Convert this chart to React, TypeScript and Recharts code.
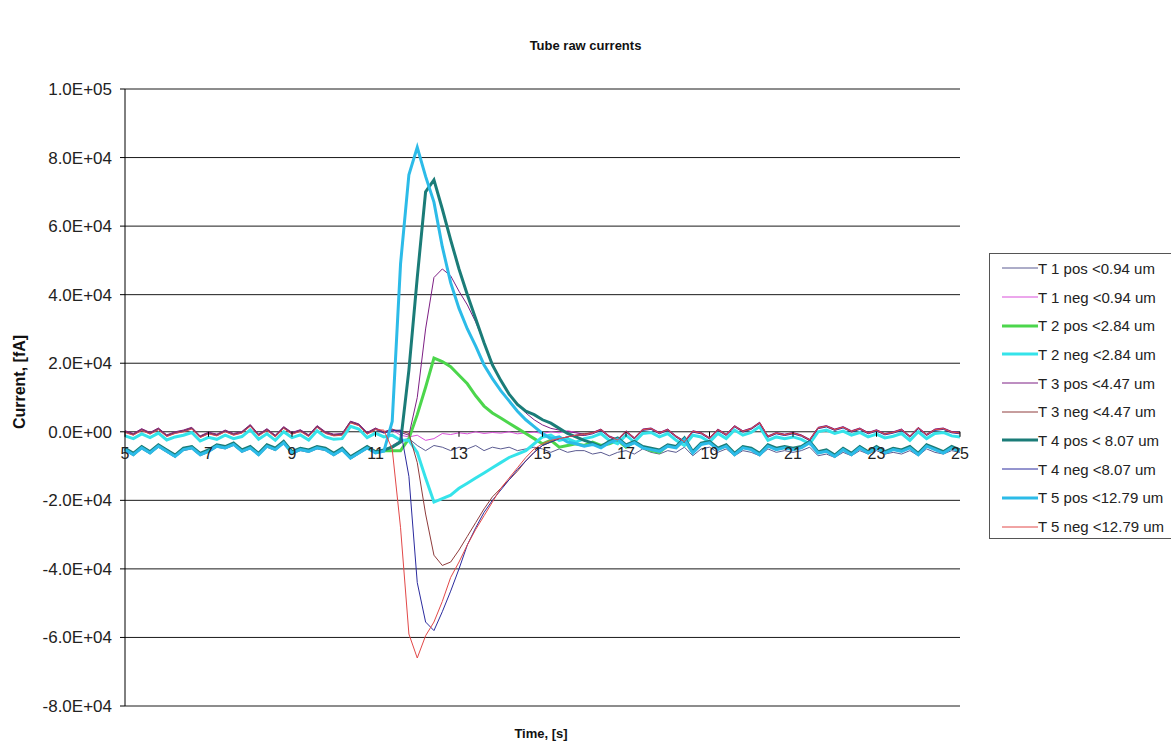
import React from 'react';
import { LineChart, Line, XAxis, YAxis, CartesianGrid } from 'recharts';

// time axis, seconds
const TIME = [
  5.0, 5.2, 5.4, 5.6, 5.8, 6.0, 6.2, 6.4, 6.6, 6.8,
  7.0, 7.2, 7.4, 7.6, 7.8, 8.0, 8.2, 8.4, 8.6, 8.8,
  9.0, 9.2, 9.4, 9.6, 9.8, 10.0, 10.2, 10.4, 10.6, 10.8,
  11.0, 11.2, 11.4, 11.6, 11.8, 12.0, 12.2, 12.4, 12.6, 12.8,
  13.0, 13.2, 13.4, 13.6, 13.8, 14.0, 14.2, 14.4, 14.6, 14.8,
  15.0, 15.2, 15.4, 15.6, 15.8, 16.0, 16.2, 16.4, 16.6, 16.8,
  17.0, 17.2, 17.4, 17.6, 17.8, 18.0, 18.2, 18.4, 18.6, 18.8,
  19.0, 19.2, 19.4, 19.6, 19.8, 20.0, 20.2, 20.4, 20.6, 20.8,
  21.0, 21.2, 21.4, 21.6, 21.8, 22.0, 22.2, 22.4, 22.6, 22.8,
  23.0, 23.2, 23.4, 23.6, 23.8, 24.0, 24.2, 24.4, 24.6, 24.8,
  25.0,
];

const T1_POS = [
  -5500, -7000, -5000, -6500, -4500, -6000, -7500, -5500, -5000, -7000,
  -6000, -4500, -5000, -4000, -6000, -5000, -7000, -4500, -5500, -3500,
  -6500, -5500, -6000, -5000, -5500, -7000, -5500, -8000, -6500, -5000,
  -6000, -5500, -4000, -2500, -2000, -4000, -5500, -4000, -4500, -5500,
  -4500, -5000, -4000, -5500, -4500, -5000, -4500, -5500, -5000, -4500,
  -5000, -6000, -5000, -6000, -5500, -5500, -6500, -6000, -7000, -6000,
  -5500, -6500, -5000, -6000, -6500, -5500, -6000, -4500, -7000, -5000,
  -4500, -6000, -5000, -7000, -5500, -6000, -7000, -5000, -6000, -5500,
  -6000, -5500, -4500, -7000, -6500, -7500, -6000, -7000, -5500, -6500,
  -5500, -6500, -6000, -6500, -5500, -7000, -5000, -6000, -6500, -5500,
  -6000,
];

const T1_NEG = [
  200, -600, 800, -300, 1000, -1000, -100, 400, 1200, -1300,
  -200, -800, 400, -600, 0, 2000, -800, 800, -1100, 1400,
  -300, 500, -1000, 1700, -100, -800, -600, 3000, 2200, -300,
  1000, -100, 500, -1000, -1500, -1000, -2500, -2000, -500, -800,
  -300, -600, 0, -500, -200, -400, 0, -600, -300, -100,
  -500, 0, -300, 300, -200, -800, -300, 700, -1300, -2300,
  200, -1800, 700, 1000, -300, 700, -1300, -2800, 200, -300,
  -1800, 700, -800, 1700, 200, 1000, 2700, -1300, -300, -800,
  -300, -1000, -2300, 1200, 1700, 700, 1400, 200, 1000, -300,
  500, -600, -100, 700, -1300, 1200, -800, 700, 1000, 0,
  -300,
];

const T2_POS = [
  -5000, -6500, -4500, -6000, -4000, -5500, -7000, -5000, -4500, -6500,
  -5500, -4000, -4500, -3500, -5500, -4500, -6500, -4000, -5000, -3000,
  -6000, -5000, -5500, -4500, -5000, -6500, -5000, -7500, -6000, -4500,
  -6000, -5500, -5500, -5500, -2000, 5000, 13000, 21500, 20500, 19000,
  16500, 14000, 10500, 7500, 5500, 4000, 2500, 1000, -500, -2000,
  -3500, -2500, -4500, -4000, -3500, -4000, -3000, -4000, -3500, -2500,
  -4500, -3000, -4500, -5500, -6000, -4000, -4500, -2500, -6000, -3500,
  -3000, -5000, -4000, -6500, -4500, -5000, -6500, -4000, -5000, -4500,
  -5000, -4500, -3000, -6000, -5500, -7000, -5000, -6500, -4500, -6000,
  -4500, -6000, -5000, -5500, -4500, -6500, -4000, -5000, -6000, -4500,
  -5500,
];

const T2_NEG = [
  -1200, -2000, -600, -1700, -400, -2400, -1500, -1000, -200, -2700,
  -1600, -2200, -1000, -2000, -1400, 600, -2200, -600, -2500, 0,
  -1700, -900, -2400, 300, -1500, -2200, -2000, 1600, 800, -1700,
  -400, -1500, -1000, -2500, -2500, -6000, -13500, -20500, -19500, -18500,
  -16500, -15000, -13500, -12000, -10500, -9000, -7500, -6500, -5500, -3500,
  -1500, -1000, -2500, -2000, -3000, -2000, -1500, -500, -2500, -3500,
  -1000, -3000, -500, -200, -1500, -500, -2500, -4000, -1000, -1500,
  -3000, -500, -2000, 500, -1000, -200, 1500, -2500, -1500, -2000,
  -1500, -2200, -3500, 0, 500, -500, 200, -1000, -200, -1500,
  -700, -1800, -1300, -500, -2500, 0, -2000, -500, -200, -1200,
  -1500,
];

const T3_POS = [
  300, -500, 900, -200, 1100, -900, 0, 500, 1300, -1200,
  -100, -700, 500, -500, 100, 2100, -700, 900, -1000, 1500,
  -200, 600, -900, 1800, 0, -700, -500, 3100, 2300, -200,
  1100, 0, 800, -200, -1000, 10000, 30000, 45000, 47500, 45500,
  41000, 37000, 32000, 26000, 20000, 15000, 11000, 8000, 5500, 3500,
  2000, 1000, 500, 0, -300, -700, -200, 800, -1200, -2200,
  300, -1700, 800, 1100, -200, 800, -1200, -2700, 300, -200,
  -1700, 800, -700, 1800, 300, 1100, 2800, -1200, -200, -700,
  -200, -900, -2200, 1300, 1800, 800, 1500, 300, 1100, -200,
  600, -500, 0, 800, -1200, 1300, -700, 800, 1100, 100,
  -200,
];

const T3_NEG = [
  100, -700, 700, -400, 900, -1100, -200, 300, 1100, -1400,
  -300, -900, 300, -700, -100, 1900, -900, 700, -1200, 1300,
  -400, 400, -1100, 1600, -200, -900, -700, 2900, 2100, -400,
  900, -200, 600, 300, -500, -9000, -24000, -36000, -39000, -38000,
  -34500, -30500, -26500, -22500, -19000, -16500, -14000, -11500, -8500, -6000,
  -4000, -3000, -2000, -1500, -1000, -500, -300, 600, -1400, -2400,
  100, -1900, 600, 900, -400, 600, -1400, -2900, 100, -400,
  -1900, 600, -900, 1600, 100, 900, 2600, -1400, -400, -900,
  -400, -1100, -2400, 1100, 1600, 600, 1300, 100, 900, -400,
  400, -700, -200, 600, -1400, 1100, -900, 600, 900, -100,
  -400,
];

const T4_POS = [
  -4800, -6300, -4300, -5800, -3800, -5300, -6800, -4800, -4300, -6300,
  -5300, -3800, -4300, -3300, -5300, -4300, -6300, -3800, -4800, -2800,
  -5800, -4800, -5300, -4300, -4800, -6300, -4800, -7300, -5800, -4300,
  -5800, -5300, -4500, -3000, 18000, 45000, 70000, 73500, 65000, 56000,
  47500, 40000, 33000, 26000, 19500, 15000, 11000, 8000, 6000, 5000,
  3500, 2500, 1000, -500, -1500, -2500, -3300, -4300, -2800, -1800,
  -3800, -2800, -4300, -4800, -5300, -3800, -4300, -1800, -5800, -3300,
  -2800, -4800, -3800, -6300, -4300, -4800, -6300, -3800, -4800, -4300,
  -4800, -4300, -2800, -5800, -5300, -6800, -4800, -6300, -4300, -5800,
  -4300, -5800, -4800, -5300, -4300, -6300, -3800, -4800, -5800, -4300,
  -5300,
];

const T4_NEG = [
  -100, -900, 500, -600, 700, -1300, -400, 100, 900, -1600,
  -500, -1100, 100, -900, -300, 1700, -1100, 500, -1400, 1100,
  -600, 200, -1300, 1400, -400, -1100, -900, 2700, 1900, -600,
  700, -400, 300, 500, -13000, -44000, -55500, -58000, -52500, -46500,
  -40000, -33000, -28000, -23500, -20000, -17000, -14000, -11000, -8500, -6000,
  -4000, -3000, -2000, -1500, -1000, -1100, -600, 400, -1600, -2600,
  -100, -2100, 400, 700, -600, 400, -1600, -3100, -100, -600,
  -2100, 400, -1100, 1400, -100, 700, 2400, -1600, -600, -1100,
  -600, -1300, -2600, 900, 1400, 400, 1100, -100, 700, -600,
  200, -900, -400, 400, -1600, 900, -1100, 400, 700, -300,
  -600,
];

const T5_POS = [
  -5200, -6700, -4700, -6200, -4200, -5700, -7200, -5200, -4700, -6700,
  -5700, -4200, -4700, -3700, -5700, -4700, -6700, -4200, -5200, -3200,
  -6200, -5200, -5700, -4700, -5200, -6700, -5200, -7700, -6200, -4700,
  -6200, -5700, 3000, 49000, 75000, 83000, 74500, 67000, 54000, 43500,
  36000, 30000, 25000, 19500, 15500, 12000, 9000, 6000, 3500, 1500,
  -500, -2000, -1500, -3000, -3500, -4200, -3700, -4700, -3200, -2200,
  -4200, -3200, -4700, -5200, -5700, -4200, -4700, -2200, -6200, -3700,
  -3200, -5200, -4200, -6700, -4700, -5200, -6700, -4200, -5200, -4700,
  -5200, -4700, -3200, -6200, -5700, -7200, -5200, -6700, -4700, -6200,
  -4700, -6200, -5200, -5700, -4700, -6700, -4200, -5200, -6200, -4700,
  -5700,
];

const T5_NEG = [
  -200, -1000, 400, -700, 600, -1400, -500, 0, 800, -1700,
  -600, -1200, 0, -1000, -400, 1600, -1200, 400, -1500, 1000,
  -700, 100, -1400, 1300, -500, -1200, -1000, 2600, 1800, -700,
  600, 500, -5000, -28000, -59000, -66000, -59500, -55500, -49500, -42500,
  -38000, -33000, -28500, -24500, -20500, -16500, -13500, -10500, -7500, -5000,
  -3500, -2500, -2000, -1500, -1000, -900, -400, 600, -1400, -2400,
  100, -1900, 600, 900, -400, 600, -1400, -2900, 100, -400,
  -1900, 600, -900, 1600, 100, 900, 2600, -1400, -400, -900,
  -400, -1100, -2400, 1100, 1600, 600, 1300, 100, 900, -400,
  400, -700, -200, 600, -1400, 1100, -900, 600, 900, -100,
  -400,
];

const X_TICKS = [5, 7, 9, 11, 13, 15, 17, 19, 21, 23, 25];
const Y_TICKS = [-80000, -60000, -40000, -20000, 0, 20000, 40000, 60000, 80000, 100000];

const SERIES = [
  { key: 'T 1 pos <0.94 um', values: T1_POS, color: '#5b5b91', width: 1 },
  { key: 'T 1 neg <0.94 um', values: T1_NEG, color: '#d94fd9', width: 1 },
  { key: 'T 2 pos <2.84 um', values: T2_POS, color: '#4cd64c', width: 3 },
  { key: 'T 2 neg <2.84 um', values: T2_NEG, color: '#35e3ea', width: 3 },
  { key: 'T 3 pos <4.47 um', values: T3_POS, color: '#7d1f84', width: 1 },
  { key: 'T 3 neg <4.47 um', values: T3_NEG, color: '#8f3c3c', width: 1 },
  { key: 'T 4 pos < 8.07 um', values: T4_POS, color: '#1b7c78', width: 3 },
  { key: 'T 4 neg <8.07 um', values: T4_NEG, color: '#2b2b9e', width: 1 },
  { key: 'T 5 pos <12.79 um', values: T5_POS, color: '#2cbbe8', width: 3 },
  { key: 'T 5 neg <12.79 um', values: T5_NEG, color: '#e24848', width: 1 },
];

const data = TIME.map((t, i) => {
  const row: Record<string, number> = { t };
  SERIES.forEach((s) => {
    row[s.key] = s.values[i];
  });
  return row;
});

const FONT = '"Liberation Sans", Arial, sans-serif';

// plot box (px)
const PLOT_LEFT = 125;
const PLOT_TOP = 89;
const PLOT_BOTTOM = 706;
const PLOT_RIGHT = 960;
const ZERO_Y = PLOT_TOP + ((PLOT_BOTTOM - PLOT_TOP) * 100000) / 180000;

const sci = (v: number) => {
  if (v === 0) return '0.0E+00';
  const exp = Math.floor(Math.log10(Math.abs(v)));
  const mant = (v / Math.pow(10, exp)).toFixed(1);
  return `${mant}E+${String(exp).padStart(2, '0')}`;
};

const XTick = (props: any) => {
  const { x, payload } = props;
  return (
    <g>
      <line x1={x} x2={x} y1={ZERO_Y} y2={ZERO_Y + 5} stroke="#000" />
      <text x={x} y={ZERO_Y + 27} textAnchor="middle" fontSize={16} fontFamily={FONT} fill="#222">
        {payload.value}
      </text>
    </g>
  );
};

const ChartLegend = () => (
  <div
    style={{
      position: 'absolute',
      left: 989,
      top: 253,
      border: '1px solid #555',
      background: '#fff',
      width: 190,
      height: 286,
      boxSizing: 'border-box',
      paddingTop: 0,
      fontFamily: FONT,
      fontSize: 15,
      color: '#222',
    }}
  >
    {SERIES.map((s) => (
      <div key={s.key} style={{ display: 'flex', alignItems: 'center', height: 28.7, whiteSpace: 'nowrap' }}>
        <svg width={48} height={10} style={{ flex: 'none' }}>
          <line x1={12} x2={48} y1={5} y2={5} stroke={s.color} strokeWidth={s.width} />
        </svg>
        <span>{s.key}</span>
      </div>
    ))}
  </div>
);

export default function App() {
  return (
    <div
      style={{
        position: 'absolute',
        left: 0,
        top: 0,
        width: 1171,
        height: 744,
        overflow: 'hidden',
        background: '#fff',
        fontFamily: FONT,
      }}
    >
      <LineChart
        width={1171}
        height={744}
        data={data}
        margin={{ top: PLOT_TOP, right: 1171 - PLOT_RIGHT, bottom: 744 - PLOT_BOTTOM - 30, left: 0 }}
        style={{ position: 'absolute', left: 0, top: 0 }}
      >
        <CartesianGrid vertical={false} stroke="#1a1a1a" strokeOpacity={1} />
        <XAxis
          dataKey="t"
          type="number"
          domain={[5, 25]}
          ticks={X_TICKS}
          axisLine={false}
          tickLine={false}
          height={30}
          tick={<XTick />}
          interval={0}
        />
        <YAxis
          type="number"
          domain={[-80000, 100000]}
          ticks={Y_TICKS}
          width={PLOT_LEFT}
          tickFormatter={sci}
          tickSize={5}
          tickMargin={8}
          axisLine={{ stroke: '#000' }}
          tickLine={{ stroke: '#000' }}
          tick={{ fontSize: 17, fontFamily: FONT, fill: '#222' }}
          interval={0}
        />
        {SERIES.map((s) => (
          <Line
            key={s.key}
            dataKey={s.key}
            type="linear"
            stroke={s.color}
            strokeWidth={s.width}
            dot={false}
            activeDot={false}
            isAnimationActive={false}
          />
        ))}
      </LineChart>
      <div
        style={{
          position: 'absolute',
          top: 38,
          left: 0,
          width: 1171,
          textAlign: 'center',
          fontWeight: 'bold',
          fontSize: 13,
          color: '#111',
        }}
      >
        Tube raw currents
      </div>
      <div
        style={{
          position: 'absolute',
          top: 726,
          left: 441,
          width: 200,
          textAlign: 'center',
          fontWeight: 'bold',
          fontSize: 13,
          color: '#111',
        }}
      >
        Time, [s]
      </div>
      <div
        style={{
          position: 'absolute',
          left: 20 - 70,
          top: 383 - 10,
          width: 140,
          textAlign: 'center',
          fontWeight: 'bold',
          fontSize: 16,
          color: '#111',
          transform: 'rotate(-90deg)',
        }}
      >
        Current, [fA]
      </div>
      <ChartLegend />
    </div>
  );
}
